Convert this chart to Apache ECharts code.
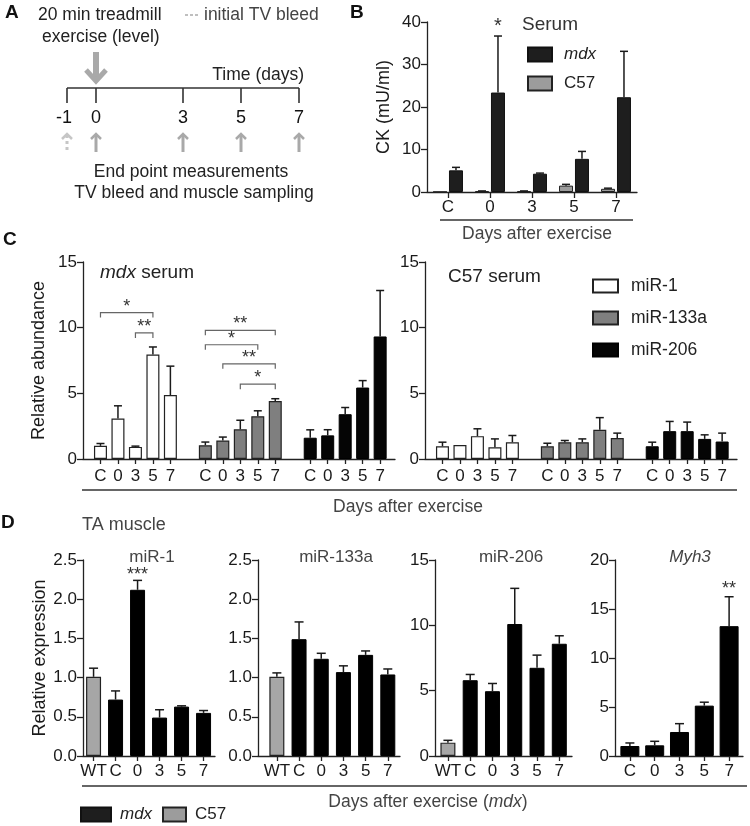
<!DOCTYPE html>
<html><head><meta charset="utf-8">
<script src="https://cdn.jsdelivr.net/npm/echarts@6/dist/echarts.min.js"></script>
<style>html,body{margin:0;padding:0;background:#fff}#c{width:750px;height:826px}</style>
</head><body><div id="c"></div>
<script>
// ---------------- DATA ----------------
// Panel A: timeline
const timelineDays = [-1, 0, 3, 5, 7];
const initialBleedDay = -1;
const exerciseDay = 0;
// Panel B: serum CK (mU/ml)
const daysB = ['C', '0', '3', '5', '7'];
const ckMdx = [5.1, 23.4, 4.3, 7.8, 22.3];
const ckMdxSem = [0.7, 13.3, 0.15, 1.75, 10.8];
const ckC57 = [0.05, 0.2, 0.2, 1.5, 0.75];
const ckC57Sem = [0, 0.05, 0.05, 0.3, 0.15];
const ckStars = [{day: '0', y: 40, text: '*'}];
// Panel C: serum miRNA relative abundance
const daysC = ['C', '0', '3', '5', '7'];
const mirNames = ['miR-1', 'miR-133a', 'miR-206'];
const mdxSerum = [
  [1.0, 3.08, 0.92, 7.95, 4.87],
  [1.05, 1.41, 2.26, 3.26, 4.41],
  [1.62, 1.8, 3.41, 5.44, 9.33]
];
const mdxSerumSem = [
  [0.18, 0.97, 0.06, 0.58, 2.2],
  [0.24, 0.26, 0.69, 0.41, 0.18],
  [0.6, 0.43, 0.51, 0.53, 3.5]
];
const c57Serum = [
  [0.97, 1.07, 1.74, 0.9, 1.28],
  [0.97, 1.28, 1.28, 2.23, 1.59],
  [0.97, 2.12, 2.12, 1.53, 1.33]
];
const c57SerumSem = [
  [0.31, 0, 0.56, 0.63, 0.51],
  [0.23, 0.13, 0.25, 0.92, 0.38],
  [0.31, 0.74, 0.69, 0.31, 0.64]
];
// significance brackets in mdx serum: group, from day, to day, height, label
const mdxBrackets = [
  {group: 0, from: 'C', to: '5', y: 11.15, text: '*'},
  {group: 0, from: '3', to: '5', y: 9.6, text: '**'},
  {group: 1, from: 'C', to: '7', y: 9.8, text: '**'},
  {group: 1, from: 'C', to: '5', y: 8.7, text: '*'},
  {group: 1, from: '0', to: '7', y: 7.25, text: '**'},
  {group: 1, from: '3', to: '7', y: 5.7, text: '*'}
];
// Panel D: TA muscle relative expression
const catsD = ['WT', 'C', '0', '3', '5', '7'];
const dMiR1 = [1.01, 0.72, 2.12, 0.49, 0.63, 0.55];
const dMiR1Sem = [0.11, 0.11, 0.12, 0.1, 0.01, 0.03];
const dMiR133a = [1.01, 1.49, 1.24, 1.07, 1.29, 1.04];
const dMiR133aSem = [0.05, 0.22, 0.07, 0.08, 0.05, 0.07];
const dMiR206 = [1.02, 5.8, 4.96, 10.1, 6.75, 8.59];
const dMiR206Sem = [0.18, 0.44, 0.59, 2.73, 0.97, 0.61];
const catsMyh3 = ['C', '0', '3', '5', '7'];
const dMyh3 = [1.02, 1.09, 2.45, 5.14, 13.25];
const dMyh3Sem = [0.31, 0.41, 0.85, 0.35, 3.0];
const dStars = [
  {panel: 0, cat: '0', y: 2.36, text: '***'},
  {panel: 3, cat: '7', y: 17.4, text: '**'}
];

// ---------------- STYLE ----------------
const FONT = '"Liberation Sans", Arial, sans-serif';
const AX = '#222';
const TXT = '#1a1a1a';
const SUB = '#444';

function yAx(gi, max, interval, extra) {
  return Object.assign({
    type: 'value', gridIndex: gi, min: 0, max: max, interval: interval,
    axisLine: {show: true, onZero: false, lineStyle: {color: AX, width: 1.3}},
    axisTick: {show: true, length: 6, lineStyle: {color: AX, width: 1.3}},
    axisLabel: {color: TXT, fontSize: 17, fontFamily: FONT, margin: 6},
    splitLine: {show: false},
    nameTextStyle: {color: TXT, fontSize: 18, fontFamily: FONT}
  }, extra || {});
}
function xVal(gi, min, max, positions, labels, margin) {
  return {
    type: 'value', gridIndex: gi, min: min, max: max,
    axisLine: {show: true, onZero: false, lineStyle: {color: AX, width: 1.3}},
    axisTick: {show: true, length: 5, customValues: positions, lineStyle: {color: AX, width: 1.3}},
    axisLabel: {show: true, customValues: positions, color: TXT, fontSize: 17, fontFamily: FONT, margin: margin,
      formatter: function (v) { const k = positions.indexOf(Math.round(v)); return k < 0 ? '' : labels[k]; }},
    splitLine: {show: false}
  };
}
function errRender(capHalf) {
  return function (params, api) {
    const x = api.value(0), m = api.value(1), t = api.value(2);
    if (t - m <= 0) return null;
    const p0 = api.coord([x, m]), p1 = api.coord([x, t]);
    const st = {stroke: '#1a1a1a', lineWidth: 1.5};
    return {type: 'group', children: [
      {type: 'line', shape: {x1: p0[0], y1: p0[1], x2: p1[0], y2: p1[1]}, style: st},
      {type: 'line', shape: {x1: p1[0] - capHalf, y1: p1[1], x2: p1[0] + capHalf, y2: p1[1]}, style: st}
    ]};
  };
}
function starRender(params, api) {
  const p = api.coord([api.value(0), api.value(1)]);
  return {type: 'text', style: {x: p[0], y: p[1] + 4, text: api.value(2), align: 'center', verticalAlign: 'middle',
    font: '18px ' + FONT, fill: '#333'}};
}

// ---------------- GRIDS ----------------
const grids = [
  {left: 67, top: 88, width: 232, height: 64},     // 0 A timeline
  {left: 427, top: 22, width: 210, height: 170},   // 1 B
  {left: 83, top: 262, width: 312, height: 197},   // 2 C mdx
  {left: 425, top: 262, width: 312, height: 197},  // 3 C C57
  {left: 83, top: 560, width: 132, height: 196},   // 4 D miR-1
  {left: 258, top: 560, width: 142, height: 196},  // 5 D miR-133a
  {left: 435, top: 560, width: 137, height: 196},  // 6 D miR-206
  {left: 615, top: 560, width: 128, height: 196}   // 7 D Myh3
].map(g => Object.assign({outerBoundsMode: 'none', containLabel: false}, g));

// positions for C (3 groups of 5 with a gap slot)
const cPos = [], cLabels = [];
mirNames.forEach((n, g) => daysC.forEach((d, i) => { cPos.push(g * (daysC.length + 1) + i); cLabels.push(d); }));
const cX = (g, i) => g * (daysC.length + 1) + i;
const dPos = catsD.map((c, i) => i);
const myhPos = catsMyh3.map((c, i) => i);

const xAxes = [
  {type: 'value', gridIndex: 0, min: timelineDays[0], max: timelineDays[timelineDays.length - 1], show: false},
  {type: 'category', gridIndex: 1, data: daysB,
    axisLine: {show: true, lineStyle: {color: AX, width: 1.3}},
    axisTick: {show: true, alignWithLabel: true, length: 6, lineStyle: {color: AX, width: 1.3}},
    axisLabel: {color: TXT, fontSize: 17, fontFamily: FONT, margin: 7}},
  xVal(2, -1, 16.85, cPos, cLabels, 9),
  xVal(3, -1, 16.85, cPos, cLabels, 9),
  xVal(4, -0.48, 5.52, dPos, catsD, 7),
  xVal(5, -0.85, 5.55, dPos, catsD, 7),
  xVal(6, -0.58, 5.57, dPos, catsD, 7),
  xVal(7, -0.6, 4.56, myhPos, catsMyh3, 7)
];
const fix1 = {axisLabel: {color: TXT, fontSize: 17, fontFamily: FONT, margin: 6, formatter: v => v.toFixed(1)}};
const yAxes = [
  {type: 'value', gridIndex: 0, min: 0, max: 1, show: false},
  yAx(1, 40, 10, {name: 'CK (mU/ml)', nameLocation: 'middle', nameGap: 34}),
  yAx(2, 15, 5, {name: 'Relative abundance', nameLocation: 'middle', nameGap: 35}),
  yAx(3, 15, 5),
  yAx(4, 2.5, 0.5, Object.assign({name: 'Relative expression', nameLocation: 'middle', nameGap: 30}, fix1)),
  yAx(5, 2.5, 0.5, fix1),
  yAx(6, 15, 5),
  yAx(7, 20, 5)
];

// ---------------- SERIES ----------------
const series = [];
// Panel A timeline line
series.push({type: 'custom', xAxisIndex: 0, yAxisIndex: 0, silent: true,
  data: [[timelineDays[0], timelineDays[timelineDays.length - 1]]], encode: {x: [0, 1]},
  renderItem: function (p, api) {
    const a = api.coord([api.value(0), 1]), b = api.coord([api.value(1), 1]);
    return {type: 'line', shape: {x1: a[0], y1: a[1], x2: b[0], y2: b[1]}, style: {stroke: '#333', lineWidth: 1.6}};
  }});
// Panel A day marks and arrows
series.push({type: 'custom', xAxisIndex: 0, yAxisIndex: 0, silent: true,
  data: timelineDays.map(d => [d, d === initialBleedDay ? 1 : 0]), encode: {x: 0},
  renderItem: function (p, api) {
    const day = api.value(0), dashed = api.value(1) === 1;
    const c = api.coord([day, 1]), x = c[0], y = c[1];
    const col = dashed ? '#c6c6c6' : '#a9a9a9';
    return {type: 'group', children: [
      {type: 'line', shape: {x1: x, y1: y, x2: x, y2: y + 15}, style: {stroke: '#333', lineWidth: 1.6}},
      {type: 'text', style: {x: x - (day < 0 ? 3 : 0), y: y + 30, text: String(day), align: 'center', verticalAlign: 'middle', font: '18px ' + FONT, fill: '#111'}},
      {type: 'line', shape: {x1: x, y1: y + 47, x2: x, y2: y + 64}, style: {stroke: col, lineWidth: 3, lineDash: dashed ? [3, 3] : null}},
      {type: 'polyline', shape: {points: [[x - 5, y + 51], [x, y + 46], [x + 5, y + 51]]}, style: {stroke: col, lineWidth: 2.5, fill: null}}
    ]};
  }});
// Panel A exercise arrow
series.push({type: 'custom', xAxisIndex: 0, yAxisIndex: 0, silent: true,
  data: [[exerciseDay]], encode: {x: 0},
  renderItem: function (p, api) {
    const c = api.coord([api.value(0), 1]), x = c[0], y = c[1];
    const col = '#a9a9a9';
    return {type: 'group', children: [
      {type: 'line', shape: {x1: x, y1: y - 36, x2: x, y2: y - 9}, style: {stroke: col, lineWidth: 6}},
      {type: 'polyline', shape: {points: [[x - 10, y - 18], [x, y - 7], [x + 10, y - 18]]}, style: {stroke: col, lineWidth: 5, fill: null}}
    ]};
  }});

// Panel B
const bBarW = 14, bGap = '14%';
series.push({name: 'C57', type: 'bar', xAxisIndex: 1, yAxisIndex: 1, data: ckC57, barWidth: bBarW, barGap: bGap,
  itemStyle: {color: '#9c9c9c', borderColor: '#222', borderWidth: 1}});
series.push({name: 'mdx', type: 'bar', xAxisIndex: 1, yAxisIndex: 1, data: ckMdx, barWidth: bBarW, barGap: bGap,
  itemStyle: {color: '#1e1e1e', borderColor: '#111', borderWidth: 1}});
const bErrData = [];
ckC57.forEach((v, i) => bErrData.push([i, v, v + ckC57Sem[i], 0]));
ckMdx.forEach((v, i) => bErrData.push([i, v, v + ckMdxSem[i], 1]));
series.push({type: 'custom', xAxisIndex: 1, yAxisIndex: 1, silent: true, z: 5, data: bErrData, encode: {x: 0, y: [1, 2]},
  renderItem: function (params, api) {
    const lay = api.barLayout({count: 2, barWidth: bBarW, barGap: bGap});
    const k = api.value(3), m = api.value(1), t = api.value(2);
    if (t - m <= 0) return null;
    const p0 = api.coord([api.value(0), m]), p1 = api.coord([api.value(0), t]);
    const x = p0[0] + lay[k].offsetCenter;
    const st = {stroke: '#1a1a1a', lineWidth: 1.5};
    return {type: 'group', children: [
      {type: 'line', shape: {x1: x, y1: p0[1], x2: x, y2: p1[1]}, style: st},
      {type: 'line', shape: {x1: x - 4, y1: p1[1], x2: x + 4, y2: p1[1]}, style: st}
    ]};
  }});
series.push({type: 'custom', xAxisIndex: 1, yAxisIndex: 1, silent: true, z: 5,
  data: ckStars.map(s => [daysB.indexOf(s.day), s.y, s.text]), encode: {x: 0, y: 1},
  renderItem: function (params, api) {
    const lay = api.barLayout({count: 2, barWidth: bBarW, barGap: bGap});
    const p = api.coord([api.value(0), api.value(1)]);
    return {type: 'text', style: {x: p[0] + lay[1].offsetCenter, y: p[1] + 4, text: api.value(2), align: 'center', verticalAlign: 'middle', font: '20px ' + FONT, fill: '#333'}};
  }});

// Panel C
const mirStyles = [
  {color: '#ffffff', borderColor: '#222', borderWidth: 1.2},
  {color: '#7f7f7f', borderColor: '#222', borderWidth: 1.2},
  {color: '#050505', borderColor: '#000', borderWidth: 1}
];
[[2, mdxSerum, mdxSerumSem], [3, c57Serum, c57SerumSem]].forEach(([gi, vals, sems]) => {
  const errData = [];
  mirNames.forEach((name, g) => {
    series.push({name: name, type: 'bar', xAxisIndex: gi, yAxisIndex: gi, barWidth: 13, barGap: '-100%',
      data: vals[g].map((v, i) => [cX(g, i), v]), itemStyle: mirStyles[g]});
    vals[g].forEach((v, i) => errData.push([cX(g, i), v, v + sems[g][i]]));
  });
  series.push({type: 'custom', xAxisIndex: gi, yAxisIndex: gi, silent: true, z: 5, data: errData,
    encode: {x: 0, y: [1, 2]}, renderItem: errRender(4)});
});
series.push({type: 'custom', xAxisIndex: 2, yAxisIndex: 2, silent: true, z: 6,
  data: mdxBrackets.map(b => [cX(b.group, daysC.indexOf(b.from)), cX(b.group, daysC.indexOf(b.to)), b.y, b.text]),
  encode: {x: [0, 1], y: 2},
  renderItem: function (params, api) {
    const a = api.coord([api.value(0), api.value(2)]), b = api.coord([api.value(1), api.value(2)]);
    return {type: 'group', children: [
      {type: 'polyline', shape: {points: [[a[0], a[1] + 5], [a[0], a[1]], [b[0], b[1]], [b[0], b[1] + 5]]},
        style: {stroke: '#666', lineWidth: 1.2, fill: null}},
      {type: 'text', style: {x: (a[0] + b[0]) / 2, y: a[1] - 6, text: api.value(3), align: 'center', verticalAlign: 'middle',
        font: '18px ' + FONT, fill: '#333'}}
    ]};
  }});

// Panel D
const dPanels = [
  {gi: 4, cats: catsD, vals: dMiR1, sems: dMiR1Sem, w: 15},
  {gi: 5, cats: catsD, vals: dMiR133a, sems: dMiR133aSem, w: 15},
  {gi: 6, cats: catsD, vals: dMiR206, sems: dMiR206Sem, w: 15},
  {gi: 7, cats: catsMyh3, vals: dMyh3, sems: dMyh3Sem, w: 19}
];
dPanels.forEach((P, pi) => {
  const wt = [], mdx = [], err = [];
  P.vals.forEach((v, i) => {
    (P.cats[i] === 'WT' ? wt : mdx).push([i, v]);
    err.push([i, v, v + P.sems[i]]);
  });
  if (wt.length) series.push({name: 'C57', type: 'bar', xAxisIndex: P.gi, yAxisIndex: P.gi, barWidth: P.w, barGap: '-100%',
    data: wt, itemStyle: {color: '#a6a6a6', borderColor: '#222', borderWidth: 1.2}});
  series.push({name: 'mdx', type: 'bar', xAxisIndex: P.gi, yAxisIndex: P.gi, barWidth: P.w, barGap: '-100%',
    data: mdx, itemStyle: {color: '#000', borderColor: '#000', borderWidth: 1}});
  series.push({type: 'custom', xAxisIndex: P.gi, yAxisIndex: P.gi, silent: true, z: 5, data: err,
    encode: {x: 0, y: [1, 2]}, renderItem: errRender(4.5)});
  const st = dStars.filter(s => s.panel === pi).map(s => [P.cats.indexOf(s.cat), s.y, s.text]);
  if (st.length) series.push({type: 'custom', xAxisIndex: P.gi, yAxisIndex: P.gi, silent: true, z: 6, data: st,
    encode: {x: 0, y: 1}, renderItem: starRender});
});

// ---------------- TEXT / DECOR ----------------
function T(x, y, text, opt) {
  opt = opt || {};
  return {type: 'text', silent: true, style: Object.assign({x: x, y: y, text: text, align: opt.align || 'left', verticalAlign: 'middle',
    font: (opt.weight || 'normal') + ' ' + (opt.size || 17.5) + 'px ' + FONT, fill: opt.color || TXT, rich: opt.rich}, opt.style || {})};
}
function L(x1, y1, x2, y2, col, dash) {
  return {type: 'line', silent: true, shape: {x1: x1, y1: y1, x2: x2, y2: y2}, style: {stroke: col || '#333', lineWidth: 1.3, lineDash: dash || null}};
}
const graphic = [
  T(5, 13, 'A', {weight: 'bold', size: 19, color: '#111'}),
  T(38, 15, '20 min treadmill', {color: '#222'}),
  T(42, 37, 'exercise (level)', {color: '#222'}),
  L(185, 15, 200, 15, '#aaa', [3, 2]),
  T(204, 15, 'initial TV bleed', {color: '#444'}),
  T(304, 75, 'Time (days)', {align: 'right', color: '#222'}),
  T(191, 172, 'End point measurements', {align: 'center', color: '#222'}),
  T(194, 193, 'TV bleed and muscle sampling', {align: 'center', color: '#222'}),

  T(350, 13, 'B', {weight: 'bold', size: 19, color: '#111'}),
  T(522, 25, 'Serum', {size: 19, color: '#333'}),
  L(440, 220, 633, 220),
  T(537, 234, 'Days after exercise', {align: 'center', color: SUB}),

  T(3, 240, 'C', {weight: 'bold', size: 19, color: '#111'}),
  {type: 'text', silent: true, style: {x: 100, y: 273, text: '{i|mdx} serum', verticalAlign: 'middle', font: '19px ' + FONT, fill: '#222',
    rich: {i: {fontStyle: 'italic', fontSize: 19, fontFamily: FONT, fill: '#222'}}}},
  T(448, 277, 'C57 serum', {size: 19, color: '#222'}),
  L(82, 490, 737, 490),
  T(408, 507, 'Days after exercise', {align: 'center', color: SUB}),

  T(1, 523, 'D', {weight: 'bold', size: 19, color: '#111'}),
  T(82, 525, 'TA muscle', {size: 18, color: SUB}),
  T(152, 557, 'miR-1', {align: 'center', size: 17, color: SUB}),
  T(336, 557, 'miR-133a', {align: 'center', size: 17, color: SUB}),
  T(511, 557, 'miR-206', {align: 'center', size: 17, color: SUB}),
  {type: 'text', silent: true, style: {x: 690, y: 557, text: 'Myh3', align: 'center', verticalAlign: 'middle',
    font: 'italic 17px ' + FONT, fill: SUB}},
  L(82, 786, 747, 786),
  {type: 'text', silent: true, style: {x: 428, y: 802, text: 'Days after exercise ({i|mdx})', align: 'center', verticalAlign: 'middle',
    font: '17.5px ' + FONT, fill: SUB, rich: {i: {fontStyle: 'italic', fontSize: 17.5, fontFamily: FONT, fill: SUB}}}}
];

const legText = (size) => ({color: '#222', fontSize: size, fontFamily: FONT, padding: [0, 0, 0, 4],
  rich: {i: {fontStyle: 'italic', fontSize: size, fontFamily: FONT, color: '#222'}}});
const legFmt = n => n === 'mdx' ? '{i|mdx}' : n;
const legend = [
  {data: ['mdx', 'C57'], orient: 'vertical', left: 527, top: 46, padding: 0, itemWidth: 24, itemHeight: 14, itemGap: 12,
    icon: 'rect', selectedMode: false, formatter: legFmt, textStyle: Object.assign(legText(17), {padding: [0, 0, 0, 7]})},
  {data: mirNames, orient: 'vertical', left: 592, top: 277, padding: 0, itemWidth: 25, itemHeight: 13, itemGap: 14,
    icon: 'rect', selectedMode: false, textStyle: Object.assign(legText(17.5), {padding: [0, 0, 0, 8]})},
  {data: ['mdx'], left: 80, top: 806, padding: 0, itemWidth: 30, itemHeight: 14, icon: 'rect', selectedMode: false,
    formatter: legFmt, textStyle: legText(17)},
  {data: ['C57'], left: 162, top: 806, padding: 0, itemWidth: 23, itemHeight: 14, icon: 'rect', selectedMode: false,
    textStyle: legText(17)}
];

const chart = echarts.init(document.getElementById('c'), null, {renderer: 'canvas'});
chart.setOption({
  backgroundColor: '#fff',
  animation: false,
  textStyle: {fontFamily: FONT},
  grid: grids,
  xAxis: xAxes,
  yAxis: yAxes,
  legend: legend,
  series: series,
  graphic: graphic,
  tooltip: {show: false}
});
</script>
</body></html>
